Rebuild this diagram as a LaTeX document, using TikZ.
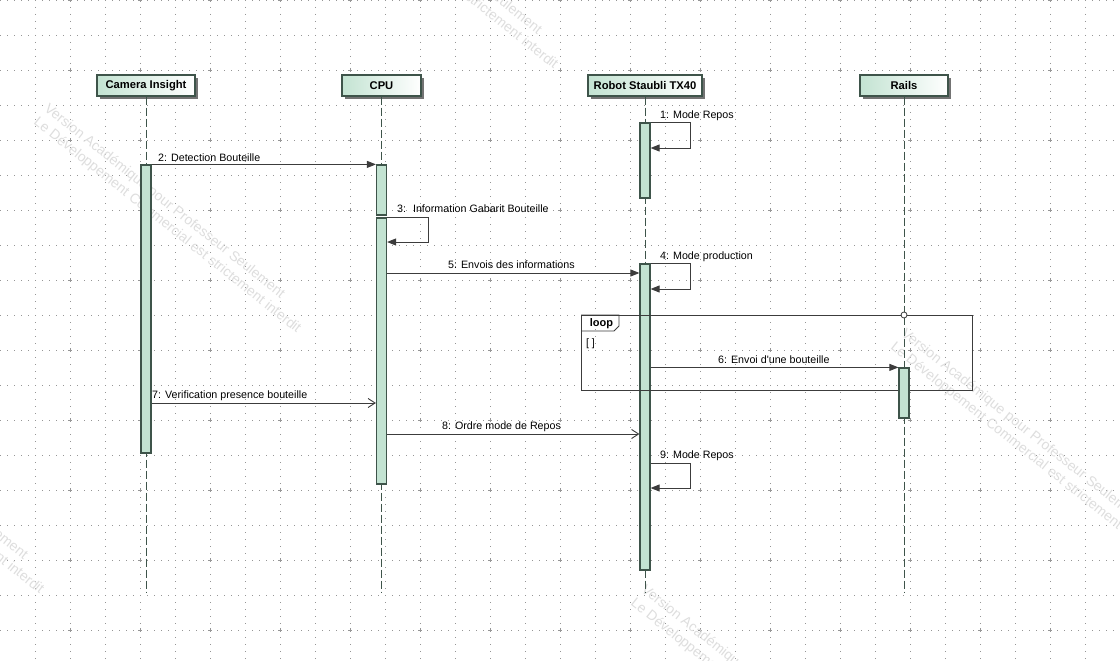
\documentclass[tikz,border=0pt]{standalone}
\usepackage{fontspec}
\setmainfont{Liberation Sans}
\usetikzlibrary{arrows.meta,shadows}

\definecolor{actfill}{RGB}{195,227,210}
\definecolor{lineclr}{RGB}{62,84,74}
\definecolor{msgclr}{RGB}{60,60,60}
\definecolor{gridclr}{RGB}{150,150,150}
\definecolor{wmclr}{RGB}{222,222,222}

\tikzset{
	gridline/.style={draw=gridclr, line width=0.9pt, dash pattern=on 0.9pt off 6.1pt},
	lifehead/.style={draw=lineclr, line width=1.2pt, left color=actfill, right color=white,
		minimum height=21pt, inner sep=0pt, font=\fontsize{11.2}{13}\selectfont\bfseries,
		drop shadow={shadow xshift=3pt, shadow yshift=-3pt, fill=black!55, opacity=1}},
	lifeline/.style={draw=lineclr, line width=0.9pt, dash pattern=on 8pt off 3pt},
	actbar/.style={draw=lineclr, fill=actfill, line width=1.2pt, minimum width=10pt, inner sep=0pt},
	sync/.style={draw=msgclr, line width=0.9pt, -{Triangle[length=9pt,width=7pt]}},
	async/.style={draw=msgclr, line width=0.9pt, -{Straight Barb[length=7pt,width=9pt]}},
	msglabel/.style={anchor=base west, inner sep=0pt, font=\fontsize{10.7}{13}\selectfont},
	watermark/.style={text=wmclr, font=\fontsize{14}{17}\selectfont, rotate=-38.5,
		align=left, anchor=north west, inner sep=0pt}
}

\begin{document}
\begin{tikzpicture}[x=1pt,y=-1pt]
	\useasboundingbox (0,0) rectangle (1120,661);
	\fill[white] (0,0) rectangle (1120,661);
	% dotted grid
	\foreach \gy in {0,35,...,630} \draw[gridline] (0,\gy) -- (1120,\gy);
	\foreach \gx in {35,70,...,1120} \draw[gridline] (\gx,0) -- (\gx,661);
	\foreach \gx in {70,140,...,1050}
		\foreach \gy in {0,70,...,630}
			\draw[gridclr, line width=0.8pt] (\gx-2,\gy) -- (\gx+2,\gy) (\gx,\gy-2) -- (\gx,\gy+2);
	% watermark
	\foreach \wx/\wy [count=\i] in {50/102, 307/-162, 907/327, -207/363, 647/583}
		\node[watermark] (wm\i) at (\wx,\wy) {Version Académique pour Professeur Seulement\\Le Développement Commercial est strictement interdit};

	% lifelines
	\node[lifehead, minimum width=98pt] (camHead) at (146,85.5) {Camera Insight};
	\node[lifehead, minimum width=79pt] (cpuHead) at (381.5,85.5) {CPU};
	\node[lifehead, minimum width=114pt] (robHead) at (645,85.5) {Robot Staubli TX40};
	\node[lifehead, minimum width=88pt] (railHead) at (904,85.5) {Rails};
	\draw[lifeline] (camHead.south) -- ++(0,496);
	\draw[lifeline] (cpuHead.south) -- ++(0,496);
	\draw[lifeline] (robHead.south) -- ++(0,496);
	\draw[lifeline] (railHead.south) -- ++(0,496);

	% activations
	\node[actbar, minimum height=288pt] (camAct) at (camHead.south |- 0,309) {};
	\node[actbar, minimum height=50pt] (cpuActA) at (cpuHead.south |- 0,190) {};
	\node[actbar, minimum height=266pt] (cpuActB) at (cpuHead.south |- 0,351) {};
	\node[actbar, minimum height=75pt] (robActA) at (robHead.south |- 0,160.5) {};
	\node[actbar, minimum height=306pt] (robActB) at (robHead.south |- 0,417) {};

	% loop fragment
	\node[draw=msgclr, line width=0.9pt, minimum width=391pt, minimum height=75pt, inner sep=0pt, anchor=north west] (loopFrame) at (581,315) {};
	\draw[msgclr, line width=0.9pt] (loopFrame.north west) -- ++(38,0) -- ++(0,11) -- ++(-5,5) -- ++(-33,0);
	\node[inner sep=0pt, font=\fontsize{11}{13}\selectfont\bfseries] (loopTag) at (601.5,323.5) {loop};
	\node[inner sep=0pt, font=\fontsize{10.7}{13}\selectfont] (loopGuard) at (590.5,344) {[ ]};
	\node[actbar, minimum height=50pt] (railAct) at (railHead.south |- 0,393) {};
	\node[circle, draw=msgclr, fill=white, line width=0.8pt, minimum size=6pt, inner sep=0pt] (railGate) at (railHead.south |- loopFrame.north) {};

	% message heights
	\coordinate (y1) at (0,148);
	\coordinate (y3) at (0,242);
	\coordinate (y4) at (0,289);
	\coordinate (y5) at (0,273);
	\coordinate (y7) at (0,403);
	\coordinate (y8) at (0,434);
	\coordinate (y9) at (0,463);
	\coordinate (y9b) at (0,488);

	% messages
	\draw[sync] (robActA.north east) -- ++(40,0) |- (robActA.east |- y1);
	\draw[sync] (camAct.north east) -- (cpuActA.north west);
	\draw[sync] (cpuActB.north east) -- ++(41,0) |- (cpuActB.east |- y3);
	\draw[sync] (robActB.north east) -- ++(40,0) |- (robActB.east |- y4);
	\draw[sync] (cpuActB.east |- y5) -- (robActB.west |- y5);
	\draw[sync] (robActB.east |- railAct.north) -- (railAct.north west);
	\draw[async] (camAct.east |- y7) -- (cpuActB.west |- y7);
	\draw[async] (cpuActB.east |- y8) -- (robActB.west |- y8);
	\draw[sync] (robActB.east |- y9) -- ++(40,0) |- (robActB.east |- y9b);

	\node[msglabel] (lbl1) at (660,118) {1: Mode Repos};
	\node[msglabel] (lbl2) at (158,161) {2: Detection Bouteille};
	\node[msglabel] (lbl3) at (397,212) {3:~ Information Gabarit Bouteille};
	\node[msglabel] (lbl4) at (660,259) {4: Mode production};
	\node[msglabel] (lbl5) at (448,268) {5: Envois des informations};
	\node[msglabel] (lbl6) at (718,363) {6: Envoi d\textquotesingle une bouteille};
	\node[msglabel] (lbl7) at (152,398) {7: Verification presence bouteille};
	\node[msglabel] (lbl8) at (442,429) {8: Ordre mode de Repos};
	\node[msglabel] (lbl9) at (660,458) {9: Mode Repos};
\end{tikzpicture}
\end{document}
